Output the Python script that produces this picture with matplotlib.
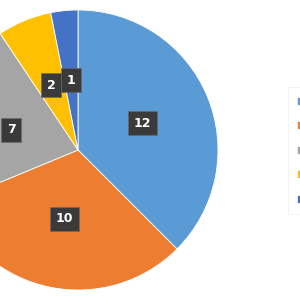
import matplotlib
matplotlib.use("Agg")
import matplotlib.pyplot as plt
from matplotlib.lines import Line2D

# ── data ──
categories = ["Category 1", "Category 2", "Category 3", "Category 4", "Category 5"]
values = [12, 10, 7, 2, 1]
colors = ["#5B9BD5", "#ED7D31", "#A5A5A5", "#FFC000", "#4472C4"]

fig = plt.figure(figsize=(3, 3), dpi=100)
fig.patch.set_facecolor("white")
ax = fig.add_axes([0, 0, 1, 1])

wedges, texts = ax.pie(
    values, labels=[str(v) for v in values], colors=colors,
    startangle=90, counterclock=False, labeldistance=0.5,
    center=(78, 150), radius=140, frame=True,
    wedgeprops=dict(edgecolor="white", linewidth=0.6),
    textprops=dict(color="white", fontsize=9, fontweight="bold",
                   ha="center", va="center"),
)
for t in texts:
    t.set_bbox(dict(boxstyle="square,pad=0.45", fc="#3a3a3a", ec="#6a6a6a", lw=0.4))

ax.set_xlim(0, 300)
ax.set_ylim(0, 300)
ax.set_aspect("equal")
ax.axis("off")

# ── legend (mostly off the right edge, as in the reference) ──
handles = [Line2D([], [], marker="s", linestyle="", markersize=4,
                  markerfacecolor=c, markeredgecolor=c) for c in colors]
leg = fig.legend(handles, categories, loc="upper left",
                 bbox_to_anchor=(291 / 300, 1 - 90 / 300),
                 frameon=True, fontsize=8, labelspacing=1.3,
                 handlelength=0.6, handletextpad=0.5, borderpad=0.6,
                 borderaxespad=0)
leg.get_frame().set_edgecolor("#eeeeee")
leg.get_frame().set_linewidth(0.6)
leg.get_frame().set_boxstyle("square")

fig.savefig("out.png", dpi=100)
